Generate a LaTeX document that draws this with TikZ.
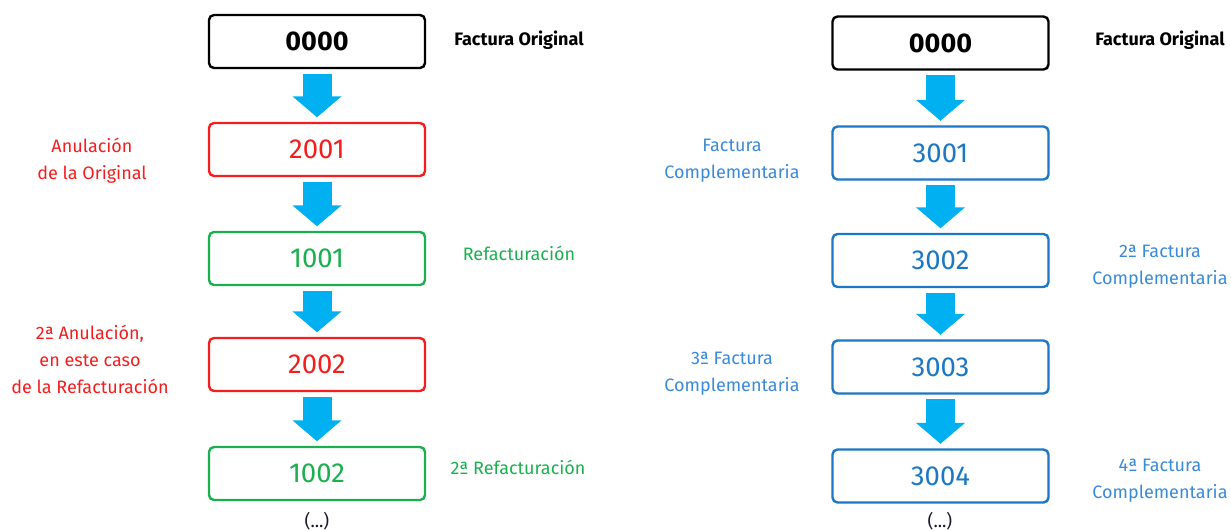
\documentclass[tikz,border=0pt]{standalone}
\usepackage{fontspec}
\setmainfont{Fira Sans}
\usetikzlibrary{arrows.meta,calc}
\definecolor{myred}{HTML}{F51D1D}
\definecolor{mygreen}{HTML}{1BB04F}
\definecolor{myblue}{HTML}{1C78C4}
\definecolor{lblblue}{HTML}{3A8ADA}
\definecolor{arrowc}{HTML}{00B0F0}
\definecolor{dots}{HTML}{1A1A30}
\begin{document}
\begin{tikzpicture}[x=1pt,y=-1pt,
  box/.style={draw, rounded corners=5pt, line width=2.4pt, minimum width=216pt, minimum height=53pt, inner sep=0pt, font=\fontsize{27.5}{32}\selectfont, fill=white},
  lbl/.style={align=center, inner sep=0pt, font=\fontsize{18}{27}\selectfont},
  flow/.style={draw=arrowc, line width=29pt, -{Triangle[width=48pt,length=21pt]}},
]
\useasboundingbox (0,0) rectangle (1231,530);
% left column
\node[box, draw=black, font=\fontsize{27}{32}\selectfont\bfseries] (l0) at (317,41.5) {0000};
\node[box, draw=myred, text=myred] (l1) at (317,149.5) {2001};
\node[box, draw=mygreen, text=mygreen] (l2) at (317,258.5) {1001};
\node[box, draw=myred, text=myred] (l3) at (317,364.5) {2002};
\node[box, draw=mygreen, text=mygreen] (l4) at (317,473.5) {1002};
\foreach \a/\b in {l0/l1,l1/l2,l2/l3,l3/l4}
  \draw[flow] ($(\a.south)+(0,4.5)$) -- ($(\b.north)-(0,4.5)$);
\node[lbl, font=\fontsize{18}{27}\selectfont\bfseries] (lt0) at (519,40) {Factura Original};
\node[lbl, text=myred] (lt1) at (92,160.5) {Anulación\\de la Original};
\node[lbl, text=mygreen] (lt2) at (519,253) {Refacturación};
\node[lbl, text=myred] (lt3) at (90,359.5) {2ª Anulación,\\en este caso\\de la Refacturación};
\node[lbl, text=mygreen] (lt4) at (518,467) {2ª Refacturación};
\node[lbl, text=dots] (ld) at (317,521) {(...)};
% right column
\node[box, draw=black, font=\fontsize{27}{32}\selectfont\bfseries] (r0) at (940.5,43) {0000};
\node[box, draw=myblue, text=myblue] (r1) at (940.5,153) {3001};
\node[box, draw=myblue, text=myblue] (r2) at (940.5,260.5) {3002};
\node[box, draw=myblue, text=myblue] (r3) at (940.5,367) {3003};
\node[box, draw=myblue, text=myblue] (r4) at (940.5,476) {3004};
\foreach \a/\b in {r0/r1,r1/r2,r2/r3,r3/r4}
  \draw[flow] ($(\a.south)+(0,4.5)$) -- ($(\b.north)-(0,4.5)$);
\node[lbl, font=\fontsize{18}{27}\selectfont\bfseries] (rt0) at (1160,40) {Factura Original};
\node[lbl, text=lblblue] (rt1) at (732,160.5) {Factura\\Complementaria};
\node[lbl, text=lblblue] (rt2) at (1160,267) {2ª Factura\\Complementaria};
\node[lbl, text=lblblue] (rt3) at (732,374) {3ª Factura\\Complementaria};
\node[lbl, text=lblblue] (rt4) at (1160,481) {4ª Factura\\Complementaria};
\node[lbl, text=dots] (rd) at (940,521) {(...)};
\end{tikzpicture}
\end{document}
